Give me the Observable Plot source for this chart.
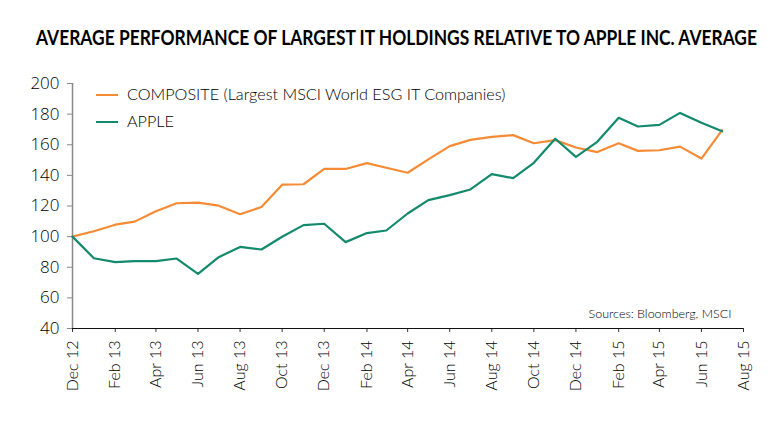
<!DOCTYPE html>
<html>
<head>
<meta charset="utf-8">
<script src="https://cdn.jsdelivr.net/npm/d3@7"></script>
<script src="https://cdn.jsdelivr.net/npm/@observablehq/plot@0.6"></script>
<style>
  body { margin:0; width:781px; height:421px; position:relative; background:#fff; font-family: Lato, "Open Sans", sans-serif; overflow:hidden; }
  #title { position:absolute; left:36px; top:26px; font-weight:bold; font-size:21px; line-height:1; white-space:nowrap; transform-origin:left top; color:#000; }
  #chart { position:absolute; left:0; top:55px; }
  .leg { position:absolute; left:96px; font-size:16.2px; font-weight:300; line-height:1; color:#000; white-space:nowrap; }
  .leg span.sw { display:inline-block; width:22px; height:2px; vertical-align:middle; margin-right:9px; position:relative; top:-1px; }
</style>
</head>
<body>
<div id="title">AVERAGE PERFORMANCE OF LARGEST IT HOLDINGS RELATIVE TO APPLE INC. AVERAGE</div>
<div id="chart"></div>
<div class="leg" style="top:86px"><span class="sw" style="background:#F58B35"></span>COMPOSITE (Largest MSCI World ESG IT Companies)</div>
<div class="leg" style="top:113px"><span class="sw" style="background:#13896D"></span>APPLE</div>
<script>
const months = [
  "2012-12","2013-01","2013-02","2013-03","2013-04","2013-05","2013-06","2013-07","2013-08","2013-09","2013-10","2013-11",
  "2013-12","2014-01","2014-02","2014-03","2014-04","2014-05","2014-06","2014-07","2014-08","2014-09","2014-10","2014-11",
  "2014-12","2015-01","2015-02","2015-03","2015-04","2015-05","2015-06","2015-07"
];
const composite = [
  100, 103.5, 107.8, 109.8, 116.6, 121.8, 122.2, 120.2, 114.6, 119.4, 133.9, 134.2,
  144.2, 144.2, 148.0, 145.0, 141.7, 150.4, 159.1, 163.2, 165.2, 166.3, 161.0, 163.0,
  158.2, 155.2, 161.0, 156.0, 156.4, 158.8, 151.0, 169.5
];
const apple = [
  100, 85.9, 83.3, 84.0, 84.0, 85.7, 75.7, 86.6, 93.3, 91.6, 99.9, 107.5,
  108.4, 96.4, 102.3, 104.0, 115.1, 123.8, 127.1, 130.8, 140.8, 138.2, 148.2, 163.9,
  152.1, 161.9, 177.6, 171.9, 173.0, 180.8, 174.3, 168.8
];
const yTicks = [40, 60, 80, 100, 120, 140, 160, 180, 200];
const xTickLabels = ["Dec 12","Feb 13","Apr 13","Jun 13","Aug 13","Oct 13","Dec 13","Feb 14","Apr 14","Jun 14","Aug 14","Oct 14","Dec 14","Feb 15","Apr 15","Jun 15","Aug 15"];
const source = "Sources: Bloomberg, MSCI";

const parseM = d3.utcParse("%Y-%m");
const parseLabel = d3.utcParse("%b %y");
const xTicks = xTickLabels.map(parseLabel);

const rows = [];
months.forEach((m, i) => {
  rows.push({date: parseM(m), value: composite[i], series: "COMPOSITE"});
  rows.push({date: parseM(m), value: apple[i], series: "APPLE"});
});

const chart = Plot.plot({
  width: 781,
  height: 366,
  marginLeft: 72,
  marginRight: 38,
  marginTop: 28,
  marginBottom: 93,
  style: { fontFamily: "Lato, 'Open Sans', sans-serif", color: "#000", background: "#fff", fontWeight: 300 },
  x: { type: "utc", domain: [xTicks[0], xTicks[xTicks.length - 1]] },
  y: { domain: [40, 200] },
  color: { domain: ["COMPOSITE", "APPLE"], range: ["#F58B35", "#13896D"] },
  marks: [
    Plot.ruleX([xTicks[0]], { stroke: "#888", strokeWidth: 1.5 }),
    Plot.axisY({ ticks: yTicks, tickSize: 5, tickPadding: 8, fontSize: 17, fontFamily: "'Open Sans', sans-serif", stroke: "#888", fill: "#000", label: null, tickFormat: d => d }),
    Plot.axisX({ ticks: xTicks, tickSize: 4, tickPadding: 8, tickRotate: -90, fontSize: 16, label: null, tickFormat: d3.utcFormat("%b %y"), stroke: "#333", fill: "#000" }),
    Plot.ruleY([40], { stroke: "#111", strokeWidth: 1.2 }),
    Plot.line(rows, { x: "date", y: "value", stroke: "series", strokeWidth: 2.2, z: "series" }),
    Plot.text([source], { frameAnchor: "bottom-right", dx: -12, dy: -11, fontSize: 12.5, fill: "#000", text: d => d })
  ]
});
document.getElementById("chart").appendChild(chart);

const t = document.getElementById("title");
const w = t.getBoundingClientRect().width;
t.style.transform = `scaleX(${721 / w})`;
</script>
</body>
</html>
